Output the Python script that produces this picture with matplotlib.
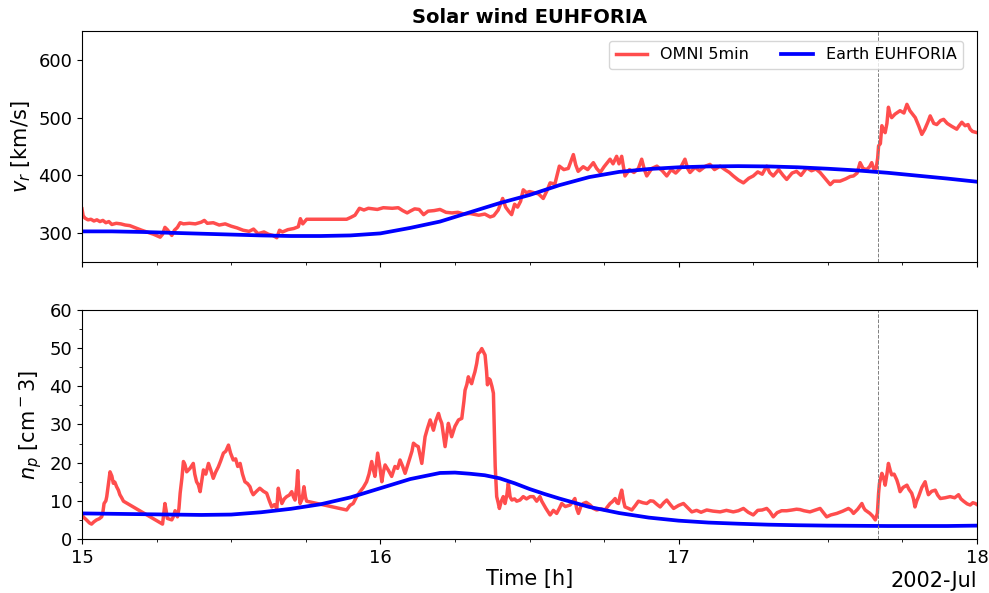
import numpy as np
import pandas as pd
import matplotlib
matplotlib.use("Agg")
import matplotlib.pyplot as plt
import matplotlib.dates as mdates

# ---------------- data (days after 2002-07-15 00:00) ----------------
vr_omni_day = [0.000, 0.004, 0.010, 0.020, 0.030, 0.040, 0.050, 0.060, 0.070, 0.080,
               0.090, 0.100, 0.115, 0.130, 0.145, 0.160, 0.200, 0.240, 0.262, 0.270,
               0.278, 0.286, 0.295, 0.301, 0.310, 0.320, 0.329, 0.340, 0.360, 0.380,
               0.400, 0.410, 0.420, 0.440, 0.460, 0.480, 0.500, 0.520, 0.540, 0.560,
               0.575, 0.590, 0.610, 0.625, 0.640, 0.653, 0.662, 0.672, 0.690, 0.710,
               0.725, 0.732, 0.740, 0.753, 0.887, 0.900, 0.915, 0.930, 0.945, 0.960,
               0.990, 1.010, 1.040, 1.060, 1.075, 1.090, 1.100, 1.115, 1.130, 1.145,
               1.160, 1.180, 1.200, 1.220, 1.240, 1.260, 1.280, 1.300, 1.330, 1.350,
               1.368, 1.380, 1.395, 1.410, 1.420, 1.430, 1.440, 1.450, 1.460, 1.470,
               1.479, 1.490, 1.500, 1.515, 1.530, 1.546, 1.560, 1.569, 1.585, 1.600,
               1.615, 1.630, 1.647, 1.655, 1.663, 1.680, 1.695, 1.714, 1.725, 1.737,
               1.750, 1.770, 1.780, 1.792, 1.800, 1.809, 1.820, 1.835, 1.850, 1.865,
               1.876, 1.885, 1.893, 1.910, 1.927, 1.945, 1.960, 1.975, 1.990, 2.005,
               2.021, 2.030, 2.038, 2.055, 2.070, 2.090, 2.105, 2.120, 2.139, 2.155,
               2.170, 2.183, 2.200, 2.217, 2.235, 2.250, 2.265, 2.280, 2.295, 2.305,
               2.317, 2.335, 2.350, 2.362, 2.380, 2.395, 2.410, 2.429, 2.445, 2.460,
               2.474, 2.490, 2.508, 2.520, 2.541, 2.560, 2.575, 2.586, 2.598, 2.608,
               2.618, 2.630, 2.640, 2.647, 2.655, 2.662, 2.667, 2.670, 2.676, 2.681,
               2.687, 2.692, 2.698, 2.703, 2.709, 2.714, 2.725, 2.742, 2.755, 2.765,
               2.775, 2.793, 2.805, 2.815, 2.825, 2.835, 2.843, 2.855, 2.865, 2.878,
               2.888, 2.900, 2.915, 2.932, 2.940, 2.949, 2.960, 2.970, 2.977, 2.985,
               3.000]
vr_omni_val = [342, 330, 326, 323, 324, 321, 323, 320, 322, 318,
               320, 315, 317, 316, 314, 313, 305, 298, 293, 298,
               310, 306, 300, 296, 305, 310, 318, 316, 317, 316,
               319, 322, 317, 318, 314, 316, 312, 309, 305, 303,
               307, 299, 302, 298, 296, 292, 305, 302, 306, 308,
               311, 325, 316, 324, 324, 327, 331, 343, 340, 343,
               341, 344, 343, 344, 339, 335, 338, 342, 341, 332,
               338, 339, 341, 336, 335, 336, 333, 334, 331, 333,
               328, 330, 340, 360, 345, 338, 332, 350, 345, 355,
               375, 370, 372, 370, 368, 360, 375, 387, 385, 416,
               410, 412, 436, 418, 407, 415, 410, 422, 412, 405,
               415, 428, 420, 433, 420, 433, 399, 410, 405, 412,
               428, 410, 399, 412, 416, 408, 399, 410, 404, 412,
               428, 412, 405, 414, 408, 416, 419, 410, 416, 410,
               405, 399, 392, 387, 395, 399, 406, 402, 416, 405,
               399, 410, 400, 393, 404, 407, 400, 413, 408, 411,
               405, 395, 384, 390, 390, 394, 398, 399, 404, 422,
               412, 410, 415, 422, 410, 412, 430, 451, 455, 486,
               478, 474, 490, 518, 505, 500, 506, 512, 508, 523,
               512, 500, 485, 471, 480, 492, 503, 490, 488, 495,
               497, 490, 485, 480, 486, 492, 486, 488, 480, 476,
               474]

vr_euh_day = [0.0, 0.1, 0.2, 0.3, 0.4, 0.5, 0.6, 0.7, 0.8, 0.9, 1.0, 1.1, 1.2, 1.3,
              1.4, 1.5, 1.6, 1.7, 1.8, 1.9, 2.0, 2.1, 2.2, 2.3, 2.4, 2.5, 2.6, 2.7,
              2.8, 2.9, 3.0]
vr_euh_val = [303, 303, 302, 300.5, 299, 297.5, 296, 295, 295, 296, 299.5, 309, 320,
              336, 352, 366, 383, 397, 406, 411, 414, 415.5, 416, 415.5, 414, 411.5,
              408.5, 404.5, 399.5, 394.5, 389]

np_omni_day = [0.000, 0.004, 0.015, 0.025, 0.032, 0.040, 0.049, 0.058, 0.066, 0.070,
               0.074, 0.080, 0.083, 0.088, 0.094, 0.100, 0.105, 0.110, 0.116, 0.122,
               0.127, 0.133, 0.139, 0.270, 0.278, 0.282, 0.286, 0.293, 0.301, 0.307,
               0.312, 0.320, 0.325, 0.329, 0.335, 0.340, 0.345, 0.351, 0.362, 0.373,
               0.378, 0.384, 0.390, 0.396, 0.402, 0.407, 0.415, 0.424, 0.432, 0.440,
               0.448, 0.457, 0.465, 0.474, 0.482, 0.491, 0.498, 0.507, 0.515, 0.522,
               0.530, 0.538, 0.546, 0.555, 0.563, 0.568, 0.574, 0.585, 0.596, 0.608,
               0.619, 0.628, 0.636, 0.645, 0.653, 0.658, 0.664, 0.670, 0.678, 0.686,
               0.695, 0.703, 0.709, 0.714, 0.720, 0.723, 0.727, 0.731, 0.738, 0.744,
               0.749, 0.753, 0.887, 0.898, 0.909, 0.920, 0.932, 0.943, 0.954, 0.962,
               0.971, 0.977, 0.982, 0.991, 0.998, 1.005, 1.010, 1.016, 1.027, 1.038,
               1.049, 1.058, 1.066, 1.075, 1.083, 1.092, 1.100, 1.106, 1.111, 1.120,
               1.127, 1.133, 1.139, 1.145, 1.150, 1.158, 1.167, 1.172, 1.178, 1.186,
               1.195, 1.200, 1.206, 1.211, 1.217, 1.222, 1.228, 1.234, 1.239, 1.250,
               1.262, 1.273, 1.280, 1.284, 1.290, 1.295, 1.300, 1.306, 1.312, 1.317,
               1.323, 1.328, 1.334, 1.340, 1.346, 1.351, 1.356, 1.359, 1.364, 1.368,
               1.374, 1.379, 1.382, 1.385, 1.390, 1.395, 1.399, 1.405, 1.412, 1.418,
               1.424, 1.429, 1.435, 1.441, 1.450, 1.457, 1.468, 1.479, 1.490, 1.502,
               1.513, 1.524, 1.535, 1.541, 1.555, 1.569, 1.580, 1.591, 1.600, 1.608,
               1.620, 1.636, 1.645, 1.652, 1.658, 1.664, 1.672, 1.680, 1.690, 1.703,
               1.714, 1.725, 1.740, 1.753, 1.762, 1.770, 1.778, 1.787, 1.793, 1.798,
               1.804, 1.809, 1.815, 1.820, 1.832, 1.843, 1.855, 1.865, 1.880, 1.893,
               1.905, 1.915, 1.928, 1.938, 1.950, 1.960, 1.972, 1.983, 2.000, 2.016,
               2.030, 2.044, 2.060, 2.075, 2.094, 2.115, 2.139, 2.160, 2.183, 2.200,
               2.217, 2.233, 2.250, 2.265, 2.280, 2.295, 2.305, 2.317, 2.330, 2.345,
               2.362, 2.380, 2.395, 2.407, 2.420, 2.440, 2.455, 2.474, 2.485, 2.496,
               2.510, 2.530, 2.550, 2.569, 2.578, 2.586, 2.600, 2.614, 2.620, 2.625,
               2.641, 2.650, 2.659, 2.666, 2.670, 2.673, 2.681, 2.687, 2.692, 2.698,
               2.703, 2.709, 2.714, 2.722, 2.731, 2.737, 2.742, 2.752, 2.765, 2.772,
               2.781, 2.787, 2.792, 2.798, 2.804, 2.815, 2.826, 2.832, 2.837, 2.848,
               2.860, 2.868, 2.877, 2.893, 2.910, 2.925, 2.938, 2.946, 2.955, 2.967,
               2.977, 2.986, 2.994, 3.000]
np_omni_val = [6.5, 5.8, 5.0, 4.2, 3.9, 4.5, 5.0, 5.3, 5.8, 7.0,
               9.3, 10.0, 11.1, 14.0, 17.6, 16.5, 14.6, 14.9, 13.7, 12.8,
               11.6, 10.8, 9.9, 3.9, 9.3, 7.5, 5.4, 5.2, 5.0, 6.0,
               7.4, 5.8, 8.0, 12.0, 16.0, 20.3, 19.5, 17.6, 18.5, 19.8,
               17.0, 15.0, 14.2, 12.4, 15.5, 18.1, 17.0, 19.8, 18.0, 15.9,
               17.5, 18.9, 20.5, 22.5, 23.0, 24.6, 22.5, 20.7, 21.0, 19.0,
               19.8, 17.0, 15.0, 14.5, 13.7, 12.5, 11.6, 12.5, 13.3, 12.5,
               12.0, 10.0, 8.4, 9.0, 8.0, 13.3, 11.0, 9.3, 10.5, 11.1,
               11.5, 12.4, 11.0, 10.2, 14.0, 17.9, 12.0, 9.3, 10.5, 13.7,
               11.0, 9.9, 7.6, 8.8, 9.3, 11.0, 12.4, 13.5, 15.0, 17.0,
               20.3, 18.0, 16.4, 22.5, 19.0, 15.0, 17.5, 19.4, 18.0, 16.4,
               19.0, 18.5, 20.7, 19.0, 17.2, 19.5, 21.6, 23.0, 25.1, 24.5,
               24.2, 22.0, 19.8, 23.5, 26.8, 29.0, 31.2, 30.0, 28.5, 31.0,
               32.9, 31.5, 30.3, 27.5, 24.2, 27.0, 30.3, 28.5, 26.8, 29.5,
               31.2, 31.6, 36.0, 39.0, 40.5, 42.5, 41.5, 40.7, 42.5, 43.8,
               46.0, 48.6, 49.0, 49.9, 49.0, 48.2, 44.0, 40.4, 42.0, 41.7,
               40.0, 38.2, 28.0, 19.0, 11.1, 9.5, 8.0, 9.8, 11.1, 9.3,
               11.5, 14.6, 11.0, 10.2, 10.5, 9.9, 10.2, 11.1, 10.5, 11.1,
               11.1, 9.9, 11.1, 9.9, 8.0, 6.3, 7.5, 6.7, 8.0, 9.3,
               8.5, 8.9, 9.8, 10.6, 8.0, 6.7, 8.5, 9.3, 9.6, 8.9,
               8.0, 7.6, 7.9, 7.6, 8.5, 9.3, 9.8, 10.6, 9.5, 9.3,
               11.5, 12.8, 10.0, 8.4, 8.0, 7.6, 8.8, 9.9, 9.5, 9.3,
               10.0, 9.9, 9.0, 8.4, 9.5, 10.2, 9.0, 8.0, 8.8, 9.3,
               8.2, 7.1, 7.5, 7.0, 7.6, 7.3, 7.1, 7.5, 7.1, 7.4,
               8.0, 7.0, 6.3, 7.5, 7.6, 8.0, 7.2, 5.8, 6.9, 7.4,
               7.4, 7.6, 7.8, 7.7, 7.4, 7.1, 7.5, 8.0, 6.9, 5.8,
               6.3, 6.7, 7.3, 8.0, 7.5, 6.7, 7.8, 9.3, 8.2, 7.6,
               6.7, 6.0, 5.0, 6.7, 12.0, 14.6, 17.2, 16.0, 14.1, 17.0,
               19.8, 18.0, 16.8, 17.0, 15.5, 14.0, 12.4, 13.5, 14.1, 13.0,
               12.0, 10.5, 8.4, 10.0, 11.1, 13.5, 15.0, 13.0, 11.6, 12.5,
               12.8, 11.5, 10.6, 10.8, 11.1, 10.8, 11.6, 10.5, 9.9, 9.2,
               8.9, 9.5, 9.3, 9.0]

np_euh_day = [0.0, 0.2, 0.4, 0.5, 0.6, 0.7, 0.8, 0.9, 1.0, 1.1, 1.2, 1.25, 1.3, 1.35,
              1.4, 1.45, 1.5, 1.55, 1.6, 1.7, 1.8, 1.9, 2.0, 2.1, 2.2, 2.3, 2.4, 2.5,
              2.6, 2.7, 2.8, 2.9, 3.0]
np_euh_val = [6.7, 6.5, 6.3, 6.4, 7.0, 7.9, 9.1, 10.9, 13.3, 15.7, 17.3, 17.4, 17.1,
              16.7, 15.9, 14.6, 13.1, 11.8, 10.6, 8.4, 6.8, 5.6, 4.8, 4.3, 4.0, 3.75,
              3.6, 3.5, 3.45, 3.4, 3.4, 3.4, 3.5]

event_day = 2.667
start = pd.Timestamp("2002-07-15")


def to_time(days):
    return start + pd.to_timedelta(np.asarray(days, dtype=float), unit="D")


# ---------------- figure ----------------
fig = plt.figure(figsize=(9.89, 5.93), dpi=100)
ax1 = fig.add_axes([0.0829, 0.5582, 0.9050, 0.3895])
ax2 = fig.add_axes([0.0829, 0.0911, 0.9050, 0.3861], sharex=ax1)

red = (1.0, 0.3, 0.3)
ax1.plot(to_time(vr_omni_day), vr_omni_val, color=red, lw=2.5, label="OMNI 5min")
ax1.plot(to_time(vr_euh_day), vr_euh_val, color="blue", lw=2.7, label="Earth EUHFORIA")
ax2.plot(to_time(np_omni_day), np_omni_val, color=red, lw=2.5)
ax2.plot(to_time(np_euh_day), np_euh_val, color="blue", lw=2.7)

for ax in (ax1, ax2):
    ax.axvline(to_time([event_day])[0], color="grey", lw=0.7, ls="--")
    ax.tick_params(labelsize=13)

ax1.set_ylim(250, 650)
ax1.set_yticks([300, 400, 500, 600])
ax2.set_ylim(0, 60)
ax2.set_yticks([0, 10, 20, 30, 40, 50, 60])
ax2.yaxis.set_minor_locator(plt.MultipleLocator(5))

ax1.set_xlim(start, start + pd.Timedelta(days=3))
loc = mdates.DayLocator()
ax2.xaxis.set_major_locator(loc)
ax2.xaxis.set_major_formatter(mdates.ConciseDateFormatter(loc))
ax2.xaxis.set_minor_locator(mdates.HourLocator(byhour=[0, 6, 12, 18]))
ax2.xaxis.get_offset_text().set_fontsize(15)
plt.setp(ax1.get_xticklabels(), visible=False)
ax1.xaxis.get_offset_text().set_visible(False)

ax1.set_ylabel(r"$v_r$ [km/s]", fontsize=15)
ax2.set_ylabel(r"$n_p$ [cm$^-3$]", fontsize=15)
ax2.set_xlabel("Time [h]", fontsize=15, labelpad=2)
ax1.set_title("Solar wind EUHFORIA", fontsize=14, fontweight="bold")
ax1.legend(loc="upper right", bbox_to_anchor=(0.9844, 0.9567), borderaxespad=0,
           ncol=2, fontsize=11.5)

fig.savefig("out.png", dpi=100)
